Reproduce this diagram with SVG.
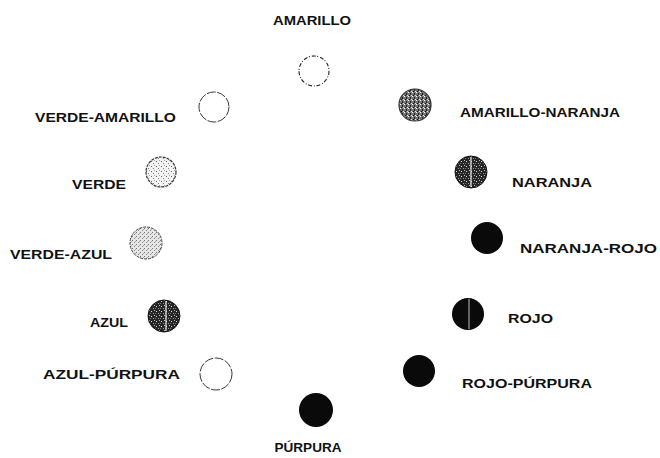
<svg xmlns="http://www.w3.org/2000/svg" width="660" height="458" viewBox="0 0 660 458">
<defs>
<pattern id="pLight" width="5" height="5" patternUnits="userSpaceOnUse">
<rect width="5" height="5" fill="#f2f2f2"/>
<rect x="1" y="1" width="1" height="1" fill="#666"/>
<rect x="3" y="3" width="1" height="1" fill="#888"/>
<rect x="4" y="0" width="1" height="1" fill="#aaa"/>
</pattern>
<pattern id="pLight2" width="4" height="4" patternUnits="userSpaceOnUse">
<rect width="4" height="4" fill="#e6e6e6"/>
<rect x="0" y="0" width="1" height="1" fill="#777"/>
<rect x="2" y="2" width="1" height="1" fill="#888"/>
<rect x="3" y="1" width="1" height="1" fill="#aaa"/>
</pattern>
<pattern id="pMed" width="4" height="4" patternUnits="userSpaceOnUse">
<rect width="4" height="4" fill="#777"/>
<rect x="0" y="0" width="1" height="1" fill="#fff"/>
<rect x="2" y="1" width="1" height="2" fill="#222"/>
<rect x="3" y="3" width="1" height="1" fill="#ddd"/>
<rect x="1" y="3" width="1" height="1" fill="#111"/>
</pattern>
<pattern id="pDark" width="5" height="5" patternUnits="userSpaceOnUse">
<rect width="5" height="5" fill="#262626"/>
<rect x="1" y="1" width="1" height="1" fill="#ddd"/>
<rect x="3" y="3" width="1" height="1" fill="#999"/>
<rect x="4" y="0" width="1" height="1" fill="#bbb"/>
<rect x="0" y="3" width="1" height="1" fill="#777"/>
</pattern>
<style>
text{font-family:"Liberation Sans",Arial,sans-serif;font-weight:bold;font-size:12.5px;fill:#111}
.open{fill:#fff;stroke:#222;stroke-width:1.1;stroke-dasharray:4 1.5 1 2}
.thin{fill:#fff;stroke:#222;stroke-width:0.9;stroke-dasharray:9 1.5}
.light{fill:url(#pLight);stroke:#333;stroke-width:1.2;stroke-dasharray:3 1}
.light2{fill:url(#pLight2);stroke:#444;stroke-width:1;stroke-dasharray:3 1}
.med{fill:url(#pMed);stroke:#333;stroke-width:1.2}
.dark{fill:url(#pDark);stroke:#111;stroke-width:1}
.solid{fill:#0a0a0a}
.split{stroke:#eee;stroke-width:1.2}
</style>
</defs>
<g id="amarillo"><text x="312" y="25" text-anchor="middle" textLength="78" lengthAdjust="spacingAndGlyphs">AMARILLO</text><circle class="open" cx="314" cy="71" r="15"/></g>
<g id="verde-amarillo"><text x="35" y="122" textLength="141" lengthAdjust="spacingAndGlyphs">VERDE-AMARILLO</text><circle class="thin" cx="214" cy="107" r="15"/></g>
<g id="amarillo-naranja"><circle class="med" cx="415" cy="105" r="16"/><text x="460" y="117" textLength="160" lengthAdjust="spacingAndGlyphs">AMARILLO-NARANJA</text></g>
<g id="verde"><text x="72" y="189" textLength="54" lengthAdjust="spacingAndGlyphs">VERDE</text><circle class="light" cx="161" cy="172" r="15"/></g>
<g id="naranja"><circle class="dark" cx="471" cy="172" r="16"/><line class="split" x1="471" y1="157" x2="471" y2="187"/><text x="512" y="187" textLength="80" lengthAdjust="spacingAndGlyphs">NARANJA</text></g>
<g id="verde-azul"><text x="10" y="259" textLength="102" lengthAdjust="spacingAndGlyphs">VERDE-AZUL</text><circle class="light2" cx="146" cy="243" r="16"/></g>
<g id="naranja-rojo"><circle class="solid" cx="487" cy="238" r="16"/><text x="520" y="253" textLength="137" lengthAdjust="spacingAndGlyphs">NARANJA-ROJO</text></g>
<g id="azul"><text x="90" y="327" textLength="38" lengthAdjust="spacingAndGlyphs">AZUL</text><circle class="dark" cx="164" cy="316" r="16"/><line class="split" x1="166" y1="301" x2="166" y2="331"/></g>
<g id="rojo"><circle class="solid" cx="468" cy="314" r="16"/><line class="split" x1="469" y1="299" x2="469" y2="329" style="stroke-width:0.8"/><text x="508" y="323" textLength="45" lengthAdjust="spacingAndGlyphs">ROJO</text></g>
<g id="azul-purpura"><text x="43" y="379" textLength="137" lengthAdjust="spacingAndGlyphs">AZUL-PÚRPURA</text><circle class="thin" cx="216" cy="374" r="16"/></g>
<g id="rojo-purpura"><circle class="solid" cx="419" cy="371" r="16"/><text x="462" y="388" textLength="130" lengthAdjust="spacingAndGlyphs">ROJO-PÚRPURA</text></g>
<g id="purpura"><circle class="solid" cx="316" cy="410" r="17"/><text x="308" y="452" text-anchor="middle" textLength="67" lengthAdjust="spacingAndGlyphs">PÚRPURA</text></g>
<g id="connectors"></g>
</svg>
